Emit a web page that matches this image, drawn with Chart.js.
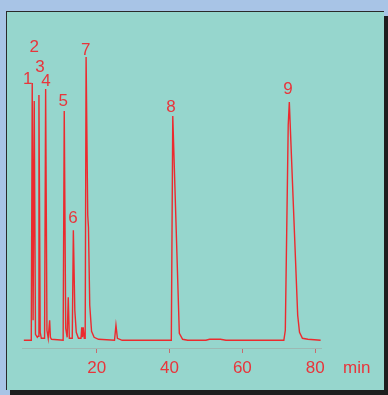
<!DOCTYPE html>
<html>
<head>
<meta charset="utf-8">
<script src="https://cdn.jsdelivr.net/npm/chart.js@4.4.1/dist/chart.umd.min.js"></script>
<style>
  html, body { margin: 0; padding: 0; }
  body { width: 388px; height: 395px; background: #a8c4e6; position: relative; overflow: hidden; }
  #panel {
    position: absolute; left: 6px; top: 11px; width: 377px; height: 378px;
    background: #96d6cd; border-left: 1px solid #2a2a2a; border-top: 1px solid #2a2a2a;
    box-shadow: 4px 5px 0 #1e1e1e;
  }
  #chart { position: absolute; left: 0; top: 0; }
</style>
</head>
<body>
<div id="panel"></div>
<canvas id="chart" width="388" height="395"></canvas>
<script>
// retention time (min) and detector signal
const times = [
  0, 2.05, 2.31, 2.55, 2.86, 3.2, 3.7, 3.9, 4.15, 4.5, 4.8,
  5.7, 5.99, 6.35, 6.7, 6.9, 7.09, 7.3, 7.6,
  10.8, 11.1, 11.5, 11.9, 12.2, 12.5, 13.3, 13.6, 14.0, 14.4, 15.0,
  15.7, 15.9, 16.1, 16.3, 16.6, 16.85, 17.1, 17.55, 17.75, 18.1, 18.6, 19.3, 20.5,
  24.9, 25.3, 25.7, 27,
  40.5, 40.9, 42.7, 43.6, 45, 50, 51, 54, 55.5,
  71.4, 71.8, 72.6, 72.9, 75.2, 75.7, 76.5, 78, 81.5
];
const signal = [
  0, 0, 257, 20, 239, 6, 3, 4, 245, 8, 2,
  2, 251, 10, 2, 2, 20, 3, 1,
  0, 229, 12, 3, 43, 2, 2, 110, 30, 8, 2,
  2, 13, 3, 13, 2, 2, 283, 125, 113, 35, 9, 3, 1,
  0, 15, 2, 0,
  0, 224, 7, 1, 0, 0, 1, 1, 0,
  0, 10, 215, 238, 25, 8, 2, 1, 0
];

const xTicks = [20, 40, 60, 80];

// peak numbers and where they sit (time, signal)
const peakNames = ["1", "2", "3", "4", "5", "6", "7", "8", "9"];
const peakNameT = [1.04, 2.86, 4.42, 6.07, 10.83, 13.49, 16.97, 40.4, 72.5];
const peakNameS = [261, 293, 273, 259, 239, 122, 290, 233, 251];

const red = '#e8353b';

const labelPlugin = {
  id: 'peakLabels',
  afterDatasetsDraw(chart) {
    const ctx = chart.ctx;
    const xs = chart.scales.x;
    const ys = chart.scales.y;
    ctx.save();
    ctx.fillStyle = red;
    ctx.font = '17px "Liberation Sans", Arial, sans-serif';
    ctx.textAlign = 'center';
    ctx.textBaseline = 'middle';
    for (let i = 0; i < peakNames.length; i++) {
      ctx.fillText(peakNames[i], xs.getPixelForValue(peakNameT[i]), ys.getPixelForValue(peakNameS[i]));
    }
    ctx.textAlign = 'left';
    ctx.textBaseline = 'alphabetic';
    ctx.font = '17px "Liberation Sans", Arial, sans-serif';
    ctx.fillText('min', xs.right + 22, 373);
    ctx.restore();
  }
};

new Chart(document.getElementById('chart').getContext('2d'), {
  type: 'line',
  data: {
    datasets: [{
      data: times.map((t, i) => ({x: t, y: signal[i]})),
      borderColor: '#ec2a2e',
      borderWidth: 1.4,
      pointRadius: 0,
      tension: 0,
      fill: false
    }]
  },
  options: {
    responsive: false,
    animation: false,
    devicePixelRatio: 1,
    layout: { padding: { left: 22, right: 67, top: 40, bottom: 0 } },
    plugins: { legend: { display: false }, tooltip: { enabled: false } },
    scales: {
      x: {
        type: 'linear',
        min: -0.5,
        max: 81.6,
        afterBuildTicks: function(scale) {
          scale.ticks = xTicks.map(v => ({value: v}));
        },
        afterFit: function(scale) {
          scale.height = 47;
        },
        grid: { drawOnChartArea: false, drawTicks: true, tickLength: 5, color: '#c86a6e' },
        border: { display: true, color: '#9cb9b3', width: 1 },
        ticks: {
          color: red,
          autoSkip: false,
          maxRotation: 0,
          padding: 5,
          font: { family: '"Liberation Sans", Arial, sans-serif', size: 17 }
        }
      },
      y: {
        display: false,
        min: -7.7,
        max: 300
      }
    }
  },
  plugins: [labelPlugin]
});
</script>
</body>
</html>
